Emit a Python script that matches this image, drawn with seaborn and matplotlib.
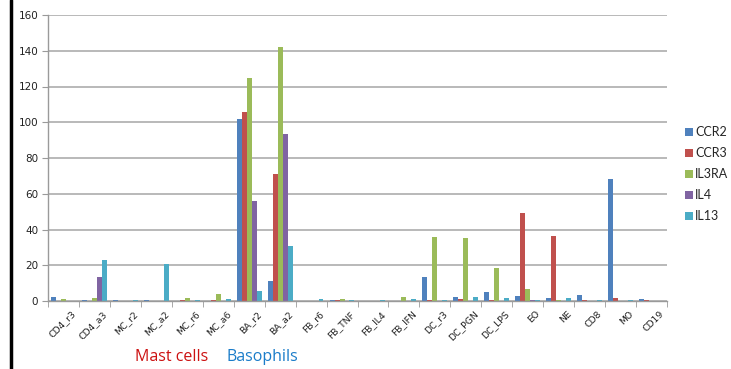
import numpy as np
import pandas as pd
import matplotlib
matplotlib.use("Agg")
import matplotlib.pyplot as plt
import matplotlib.transforms as mtransforms
import seaborn as sns
from matplotlib.patches import Patch
from matplotlib.lines import Line2D

samples = ["CD4_r3", "CD4_a3", "MC_r2", "MC_a2", "MC_r6", "MC_a6", "BA_r2", "BA_a2",
           "FB_r6", "FB_TNF", "FB_IL4", "FB_IFN", "DC_r3", "DC_PGN", "DC_LPS",
           "EO", "NE", "CD8", "MO", "CD19"]
genes = ["CCR2", "CCR3", "IL3RA", "IL4", "IL13"]

ccr2 = [2, 0.5, 0.5, 0.5, 0, 0, 102, 11, 0, 0.5, -0.5, -0.5, 13.5, 2.5, 5, 3, 1.5, 3.5, 68.5, 1]
ccr3 = [0, 0, 0, 0, 0.5, 0.5, 106, 71, 0, 0.5, 0, 0, 0.5, 1, 0.5, 49, 36.5, 0.5, 1.5, 0.5]
il3ra = [1, 1.5, 0, 0, 1.5, 4, 125, 142, 0, 1, 0, 2.5, 36, 35, 18.5, 6.5, 0.5, 0, 0, 0]
il4 = [-0.5, 13.5, -0.5, 0, 0, 0, 56, 93.5, -0.5, -0.5, -0.5, -0.5, -0.5, -0.5, -0.5, 0.5, -0.5, -0.5, 0, 0]
il13 = [0, 23, 0.5, 20.5, 0.5, 1, 5.5, 31, 1, 0.5, 0.5, 1, 0.5, 2.5, 1.5, 0.5, 1.5, 0.5, 0.5, 0]

y_ticks = [0, 20, 40, 60, 80, 100, 120, 140, 160]
colors = ["#4F81BD", "#C0504D", "#9BBB59", "#8064A2", "#4BACC6"]

df = pd.DataFrame({
    "sample": np.repeat(samples, len(genes)),
    "gene": genes * len(samples),
    "value": np.ravel(np.column_stack([ccr2, ccr3, il3ra, il4, il13])),
})

sns.set_style("white")
plt.rcParams["font.family"] = ["DejaVu Sans"]

fig = plt.figure(figsize=(7.31, 3.69), dpi=100)
ax = fig.add_axes([48 / 731, 1 - 301 / 369, (667 - 48) / 731, (301 - 15) / 369])

sns.barplot(data=df, x="sample", y="value", hue="gene", order=samples,
            hue_order=genes, palette=colors, width=0.8, ax=ax,
            saturation=1, errorbar=None, legend=False, linewidth=0)

ax.set_xlim(-0.5, len(samples) - 0.5)
ax.set_ylim(0, 160)
ax.set_yticks(y_ticks)
ax.set_yticklabels([str(v) for v in y_ticks], fontsize=7.5, color="#222222")
ax.yaxis.grid(True, color="#b3b3b3", linewidth=1.3)
ax.set_axisbelow(True)
ax.set_xlabel("")
ax.set_ylabel("")

for side in ["top", "right"]:
    ax.spines[side].set_visible(False)
for side in ["left", "bottom"]:
    ax.spines[side].set_color("#9a9a9a")
    ax.spines[side].set_linewidth(1.0)

ax.tick_params(axis="y", which="major", length=4, color="#9a9a9a", left=True, pad=3)
ax.set_xticks(range(len(samples)))
ax.set_xticklabels(samples, rotation=45, ha="right", va="top",
                   rotation_mode="anchor", fontsize=6.7, color="#222222")
ax.tick_params(axis="x", which="major", length=0, pad=6)
ax.set_xticks(np.arange(-0.5, len(samples) + 0.5, 1), minor=True)
ax.tick_params(axis="x", which="minor", length=4, color="#9a9a9a", bottom=True)

# nudge the rotated category labels to the right
shift = mtransforms.ScaledTranslation(8 / 100, 0, fig.dpi_scale_trans)
for lbl in ax.get_xticklabels():
    lbl.set_transform(lbl.get_transform() + shift)

handles = [Patch(facecolor=c, edgecolor="none", label=g) for g, c in zip(genes, colors)]
fig.legend(handles=handles, loc="upper left", bbox_to_anchor=(685 / 731, 1 - 126 / 369),
           frameon=False, handlelength=0.6, handleheight=0.6,
           handletextpad=0.2, labelspacing=0.72, borderaxespad=0, borderpad=0,
           prop={"family": "Lato", "size": 9})

fig.text(172 / 731, 1 - 357 / 369, "Mast cells", color="#cc1111", fontsize=11.5,
         ha="center", va="center", family="Open Sans")
fig.text(262 / 731, 1 - 357 / 369, "Basophils", color="#1a7cc9", fontsize=11.5,
         ha="center", va="center", family="Open Sans")

fig.add_artist(Line2D([10.5 / 731, 10.5 / 731], [0, 1], transform=fig.transFigure,
                      color="black", linewidth=2.5))

fig.savefig("out.png", dpi=100)
